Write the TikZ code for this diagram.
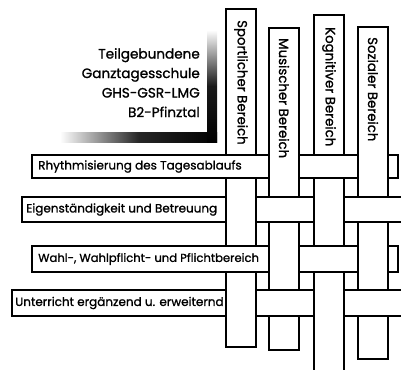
\documentclass[tikz,border=0pt]{standalone}
\usepackage{fontspec}
\newfontfamily\weavefont[FakeBold=1.2]{Poppins}
\usetikzlibrary{calc}

\tikzset{
  wline/.style={line width=2pt},
  vstrip/.style={draw, wline, fill=white, inner sep=0pt, outer sep=0pt,
                 minimum width=30pt, anchor=north west},
  hstrip/.style={draw, wline, fill=white, inner sep=0pt, outer sep=0pt,
                 anchor=north west},
  vlabel/.style={rotate=-90, anchor=west, inner sep=0pt,
                 font=\weavefont\fontsize{13.3}{15}\selectfont},
  hlabel/.style={anchor=west, inner sep=0pt,
                 font=\weavefont\fontsize{12}{14}\selectfont}
}

% vertical strip #1 lies over horizontal strip #2
\newcommand{\weaveover}[2]{%
  \fill[white] ($(#1.west|-#2.north)+(0pt,1.2pt)$) rectangle ($(#1.east|-#2.south)-(0pt,1.2pt)$);
  \draw[wline] ($(#1.west|-#2.north)+(0pt,1.2pt)$) -- ($(#1.west|-#2.south)-(0pt,1.2pt)$);
  \draw[wline] ($(#1.east|-#2.north)+(0pt,1.2pt)$) -- ($(#1.east|-#2.south)-(0pt,1.2pt)$);
}

\begin{document}
\begin{tikzpicture}[x=1pt, y=-1pt]
  \useasboundingbox (0,0) rectangle (401,369);
  \clip (0,0) rectangle (401,369);

  % Title with shaded corner
  \shade[left color=white, right color=black, middle color=black!85]
        (60,132) rectangle (217,142);
  \shade[top color=white, bottom color=black, middle color=black!90]
        (207,30) rectangle (217,142);
  \node[anchor=north east, inner sep=0pt, align=right,
        font=\weavefont\fontsize{13.6}{19.5}\selectfont] (title) at (200,48)
        {Teilgebundene\\Ganztagesschule\\GHS-GSR-LMG\\B2-Pfinztal};

  % Vertical strips
  \node[vstrip, minimum height=338pt] (sport)  at (226,9)  {};
  \node[vstrip, minimum height=322pt] (music)  at (269,28) {};
  \node[vstrip, minimum height=365pt] (cogn)   at (314,15) {};
  \node[vstrip, minimum height=332pt] (social) at (358,27) {};

  % Horizontal strips
  \node[hstrip, minimum width=366pt, minimum height=23pt] (rhythm) at (32,155) {};
  \node[hlabel] (rhythmlbl) at ([xshift=6pt]rhythm.west) {Rhythmisierung des Tagesablaufs};
  \node[hstrip, minimum width=388pt, minimum height=25pt] (self) at (22,197) {};
  \node[hlabel] (selflbl) at ([xshift=4pt]self.west) {Eigenständigkeit und Betreuung};
  \node[hstrip, minimum width=366pt, minimum height=26pt] (choice) at (32,246) {};
  \node[hlabel, font=\weavefont\fontsize{11.6}{14}\selectfont] (choicelbl)
        at ([xshift=6pt]choice.west) {Wahl-, Wahlpflicht- und Pflichtbereich};
  \node[hstrip, minimum width=398pt, minimum height=26pt] (lesson) at (12,290) {};
  \node[hlabel] (lessonlbl) at ([xshift=3pt]lesson.west) {Unterricht ergänzend u. erweiternd};

  % Crossings where the vertical strip lies on top
  \weaveover{music}{rhythm}
  \weaveover{social}{rhythm}
  \weaveover{sport}{self}
  \weaveover{cogn}{self}
  \weaveover{music}{choice}
  \weaveover{social}{choice}
  \weaveover{sport}{lesson}
  \weaveover{cogn}{lesson}

  % Vertical labels
  \node[vlabel] (sportlbl)  at ([yshift=-11pt]sport.north)  {Sportlicher Bereich};
  \node[vlabel] (musiclbl)  at ([yshift=-10pt]music.north)  {Musischer Bereich};
  \node[vlabel] (cognlbl)   at ([yshift=-12pt]cogn.north)   {Kognitiver Bereich};
  \node[vlabel] (sociallbl) at ([yshift=-10pt]social.north) {Sozialer Bereich};
\end{tikzpicture}
\end{document}
